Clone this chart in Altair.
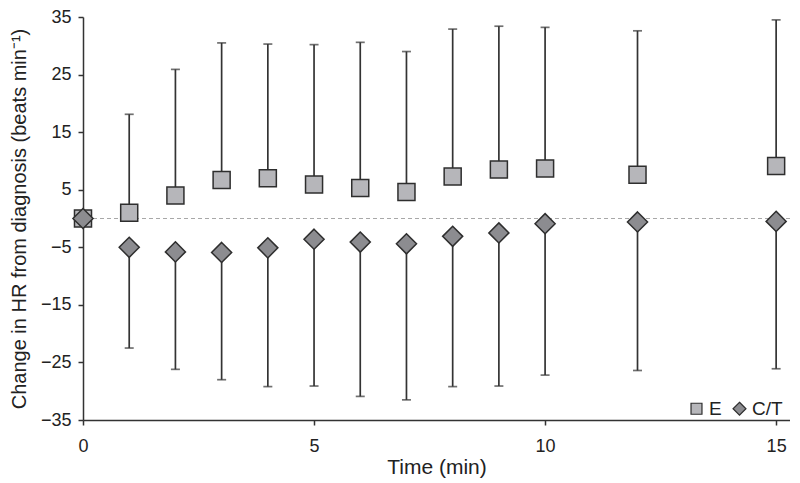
import altair as alt
import pandas as pd

times = [0, 1, 2, 3, 4, 5, 6, 7, 8, 9, 10, 12, 15]
e_mean = [0, 1.0, 4.0, 6.7, 7.0, 5.9, 5.3, 4.6, 7.3, 8.5, 8.7, 7.6, 9.1]
e_upper = [None, 18.1, 25.9, 30.5, 30.3, 30.2, 30.6, 29.0, 32.9, 33.4, 33.2, 32.6, 34.5]
ct_mean = [0, -5.0, -5.8, -5.9, -5.1, -3.6, -4.1, -4.4, -3.1, -2.5, -0.9, -0.6, -0.5]
ct_lower = [None, -22.5, -26.2, -28.0, -29.2, -29.1, -30.9, -31.5, -29.2, -29.1, -27.2, -26.4, -26.1]
groups = ["E", "C/T"]
y_ticks = [-35, -25, -15, -5, 5, 15, 25, 35]
x_ticks = [0, 5, 10, 15]

rows = []
for i, t in enumerate(times):
    rows.append({"time": t, "group": "E", "mean": e_mean[i], "bound": e_upper[i]})
    rows.append({"time": t, "group": "C/T", "mean": ct_mean[i], "bound": ct_lower[i]})
df = pd.DataFrame(rows)
bars = df.dropna(subset=["bound"])

FONT = "Liberation Sans, Arial, sans-serif"
DIAMOND = "M0,-1.18L1.18,0L0,1.18L-1.18,0Z"

x_enc = alt.X("time:Q", scale=alt.Scale(domain=[0, 15.3], nice=False),
              axis=alt.Axis(values=x_ticks, title="Time (min)", grid=False,
                            format="d", tickSize=5, labelPadding=12, labelFlush=False,
                            titleFontSize=21, titleY=47, titleBaseline="middle"))
y_enc = alt.Y("mean:Q", scale=alt.Scale(domain=[-35, 35], nice=False),
              axis=alt.Axis(values=y_ticks, grid=False, tickSize=5, labelPadding=7,
                            labelFlush=False,
                            title="Change in HR from diagnosis (beats  min⁻¹)",
                            titleFontSize=20, titleX=-64, titleBaseline="middle",
                            titleAngle=-90, titleAlign="center"))

zero = alt.Chart(df).mark_rule(color="#a8a8a8", strokeDash=[4, 3], strokeWidth=1).encode(
    y=alt.datum(0)
)

err = alt.Chart(bars).mark_rule(color="#333333", strokeWidth=1.7).encode(
    x="time:Q", y="mean:Q", y2="bound:Q"
)
caps = alt.Chart(bars).mark_tick(color="#333333", orient="horizontal", size=9, thickness=1.7).encode(
    x="time:Q", y="bound:Q"
)

legend = alt.Legend(title=None, orient="none", direction="horizontal",
                    legendX=604, legendY=382, symbolSize=120,
                    symbolStrokeWidth=1.2,
                    labelFontSize=19, labelFont=FONT, columnPadding=8,
                    labelOffset=3, labelColor="#222")

points = alt.Chart(df).mark_point(filled=True, strokeWidth=1.5,
                                  opacity=1, size=290).encode(
    x=x_enc,
    y=y_enc,
    shape=alt.Shape("group:N", scale=alt.Scale(domain=groups, range=["square", DIAMOND]),
                    legend=legend),
    fill=alt.Fill("group:N", scale=alt.Scale(domain=groups, range=["#b6b6ba", "#8c8c90"]),
                  legend=legend),
    stroke=alt.Stroke("group:N", scale=alt.Scale(domain=groups, range=["#2e2e2e", "#2e2e2e"]),
                      legend=legend),
    order=alt.Order("group:N", sort="descending"),
)

chart = alt.layer(zero, err, caps, points).properties(
    width=707, height=403,
    autosize=alt.AutoSizeParams(type="none"),
    padding={"left": 75, "top": 9, "right": 0, "bottom": 63},
).configure_view(stroke=None).configure_axis(
    labelFont=FONT, titleFont=FONT, labelFontSize=18,
    titleFontWeight="normal", labelColor="#222", titleColor="#222",
    domainColor="#333", tickColor="#333", domainWidth=1.5, tickWidth=1.5,
)

chart.save("out.html", embed_options={"renderer": "svg", "actions": False})
